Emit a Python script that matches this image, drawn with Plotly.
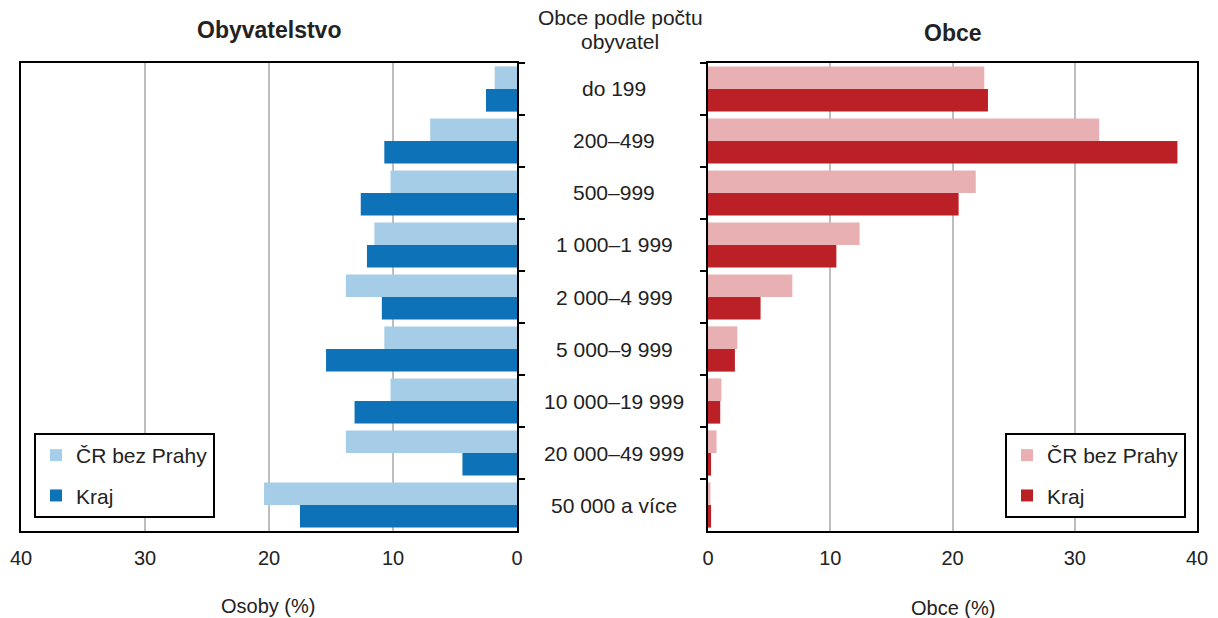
import plotly.graph_objects as go

categories = ["do 199", "200–499", "500–999", "1 000–1 999", "2 000–4 999",
              "5 000–9 999", "10 000–19 999", "20 000–49 999", "50 000 a více"]
series_names = ["ČR bez Prahy", "Kraj"]
obyv_cr = [1.8, 7.0, 10.2, 11.5, 13.8, 10.7, 10.2, 13.8, 20.4]
obyv_kraj = [2.5, 10.7, 12.6, 12.1, 10.9, 15.4, 13.1, 4.4, 17.5]
obce_cr = [22.6, 32.0, 21.9, 12.4, 6.9, 2.4, 1.1, 0.7, 0.2]
obce_kraj = [22.9, 38.4, 20.5, 10.5, 4.3, 2.2, 1.0, 0.25, 0.25]
tick_vals = [0, 10, 20, 30, 40]

FONT = "Liberation Sans, Arial, sans-serif"
TXT = "#222222"
W, H = 1218, 618

def px_x(p):
    return p / W

def px_y(p):
    return 1 - p / H

fig = go.Figure()
fig.add_trace(go.Bar(y=categories, x=obyv_cr, orientation="h", name=series_names[0],
                     marker_color="#A6CDE7", xaxis="x", yaxis="y", legend="legend",
                     legendgroup="a"))
fig.add_trace(go.Bar(y=categories, x=obyv_kraj, orientation="h", name=series_names[1],
                     marker_color="#0E72B8", xaxis="x", yaxis="y", legend="legend",
                     legendgroup="b"))
fig.add_trace(go.Bar(y=categories, x=obce_cr, orientation="h", name=series_names[0],
                     marker_color="#E8B0B3", xaxis="x2", yaxis="y2", legend="legend2",
                     legendgroup="c"))
fig.add_trace(go.Bar(y=categories, x=obce_kraj, orientation="h", name=series_names[1],
                     marker_color="#BA2025", xaxis="x2", yaxis="y2", legend="legend2",
                     legendgroup="d"))

y_dom = [px_y(531), px_y(63)]
axis_common = dict(showline=True, linecolor="black", linewidth=2, mirror=True,
                   zeroline=False, automargin=False)

fig.update_layout(
    template="none",
    width=W, height=H,
    margin=dict(l=0, r=0, t=0, b=0, autoexpand=False),
    paper_bgcolor="white", plot_bgcolor="white",
    font=dict(family=FONT, size=20, color=TXT),
    barmode="group", bargap=0.13, bargroupgap=0,
    xaxis=dict(domain=[px_x(21), px_x(517)], range=[40, 0], tickvals=tick_vals,
               showgrid=True, gridcolor="#BEBEBE", gridwidth=1.6, ticks="",
               ticklabelstandoff=8, tickfont=dict(size=20, color=TXT), **axis_common),
    yaxis=dict(domain=y_dom, autorange="reversed", side="right", ticks="outside",
               tickson="boundaries", ticklen=6, tickwidth=2, tickcolor="black",
               showticklabels=False, showgrid=False, **axis_common),
    xaxis2=dict(domain=[px_x(708), px_x(1197)], range=[0, 40], tickvals=tick_vals,
                showgrid=True, gridcolor="#BEBEBE", gridwidth=1.6, ticks="",
                ticklabelstandoff=8, tickfont=dict(size=20, color=TXT), anchor="y2",
                **axis_common),
    yaxis2=dict(domain=y_dom, autorange="reversed", side="left", ticks="outside",
                tickson="boundaries", ticklen=6, tickwidth=2, tickcolor="black",
                showticklabels=False, showgrid=False, anchor="x2", **axis_common),
    legend=dict(x=px_x(34), y=px_y(433), xanchor="left", yanchor="top",
                bordercolor="black", borderwidth=2, bgcolor="white",
                font=dict(size=21, color=TXT), traceorder="grouped",
                tracegroupgap=10),
    legend2=dict(x=px_x(1005), y=px_y(433), xanchor="left", yanchor="top",
                 bordercolor="black", borderwidth=2, bgcolor="white",
                 font=dict(size=21, color=TXT), traceorder="grouped",
                 tracegroupgap=10),
)

annots = []
annots.append(dict(text="<b>Obyvatelstvo</b>", x=px_x(269), y=px_y(30), xref="paper",
                   yref="paper", showarrow=False, font=dict(size=23, color=TXT),
                   xanchor="center", yanchor="middle"))
annots.append(dict(text="<b>Obce</b>", x=px_x(953), y=px_y(33), xref="paper",
                   yref="paper", showarrow=False, font=dict(size=23, color=TXT),
                   xanchor="center", yanchor="middle"))
annots.append(dict(text="Obce podle počtu", x=px_x(620), y=px_y(18),
                   xref="paper", yref="paper", showarrow=False,
                   font=dict(size=21, color=TXT), xanchor="center", yanchor="middle"))
annots.append(dict(text="obyvatel", x=px_x(620), y=px_y(42),
                   xref="paper", yref="paper", showarrow=False,
                   font=dict(size=21, color=TXT), xanchor="center", yanchor="middle"))
annots.append(dict(text="Osoby (%)", x=px_x(268), y=px_y(606), xref="paper",
                   yref="paper", showarrow=False, font=dict(size=20, color=TXT),
                   xanchor="center", yanchor="middle"))
annots.append(dict(text="Obce (%)", x=px_x(953), y=px_y(608), xref="paper",
                   yref="paper", showarrow=False, font=dict(size=20, color=TXT),
                   xanchor="center", yanchor="middle"))
for c in categories:
    annots.append(dict(text=c, x=px_x(614), y=c, xref="paper", yref="y",
                       showarrow=False, font=dict(size=21, color=TXT),
                       xanchor="center", yanchor="middle"))
fig.update_layout(annotations=annots)

fig.write_html("out.html", config={"displayModeBar": False},
               post_script="document.body.style.margin='0';document.body.style.overflow='hidden';")
